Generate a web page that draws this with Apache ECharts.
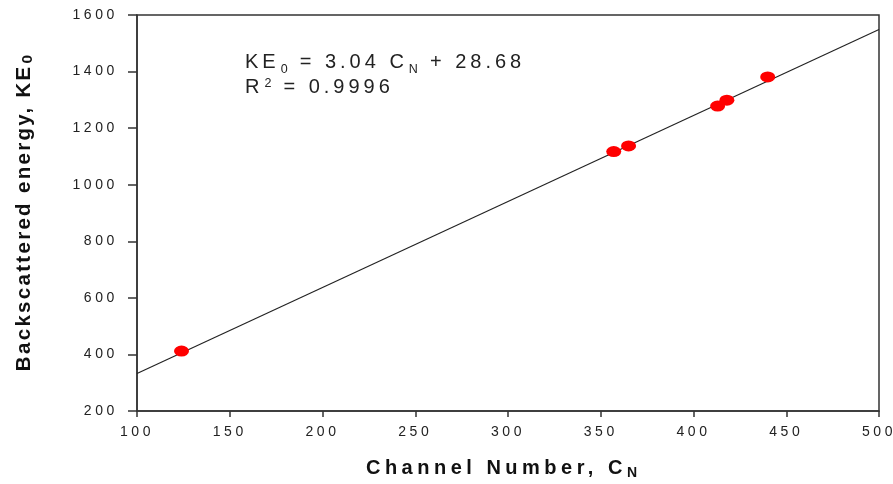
<!DOCTYPE html>
<html>
<head>
<meta charset="utf-8">
<script src="https://cdn.jsdelivr.net/npm/echarts@6/dist/echarts.min.js"></script>
<style>
  html, body { margin: 0; padding: 0; background: #fff; }
  #chart { width: 893px; height: 484px; }
</style>
</head>
<body>
<div id="chart"></div>
<script>
// Measured channel numbers and backscattered energies
const channelNumber = [124, 357, 365, 413, 418, 440];
const backscatterEnergy = [412, 1117, 1137, 1278, 1299, 1381];

// Linear fit stated in the annotation
const fitSlope = 3.04;
const fitIntercept = 28.68;
const fitR2 = '0.9996';
const fitRange = [100, 500];

const xTicks = [100, 150, 200, 250, 300, 350, 400, 450, 500];
const yTicks = [200, 400, 600, 800, 1000, 1200, 1400, 1600];

// Wide letter spacing for the typography, keyed by canvas font size/weight.
// Applied to both measuring and drawing contexts so text layout stays consistent.
const trackingByFont = {
  'normal 14px': 3.6,
  'normal 20px': 4,
  'normal 12.5px': 1.5,
  'bold 20px': 4.5,
  'bold 14px': 1,
  'bold 20.5px': 2.3,
  'bold 15.5px': 0
};
(function () {
  const proto = CanvasRenderingContext2D.prototype;
  const desc = Object.getOwnPropertyDescriptor(proto, 'font');
  if (!desc || !('letterSpacing' in proto)) return;
  Object.defineProperty(proto, 'font', {
    configurable: true,
    get() { return desc.get.call(this); },
    set(v) {
      desc.set.call(this, v);
      const m = /(bold\s+)?([\d.]+)px/.exec(v);
      let ls = 0;
      if (m) {
        const key = (m[1] ? 'bold ' : 'normal ') + m[2] + 'px';
        ls = trackingByFont[key] || 0;
      }
      this.letterSpacing = ls + 'px';
    }
  });
})();

const points = channelNumber.map((c, i) => [c, backscatterEnergy[i]]);
const fitLine = fitRange.map(c => [c, fitSlope * c + fitIntercept]);

const chart = echarts.init(document.getElementById('chart'), null, { renderer: 'canvas' });

const txt = '#222';
const font = '"Liberation Sans", Arial, sans-serif';

chart.setOption({
  animation: false,
  backgroundColor: '#fff',
  grid: {
    left: 137, right: 14, top: 15, bottom: 73,
    outerBoundsMode: 'none', containLabel: false,
    show: true, borderColor: '#333', borderWidth: 1.5, backgroundColor: 'transparent'
  },
  xAxis: {
    type: 'value', min: xTicks[0], max: xTicks[xTicks.length - 1], interval: 50,
    axisLine: { show: true, lineStyle: { color: '#333', width: 1.5 } },
    axisTick: { show: true, inside: false, length: 6, lineStyle: { color: '#333', width: 1.5 } },
    splitLine: { show: false },
    axisLabel: { color: txt, fontFamily: font, fontSize: 14, margin: 12, formatter: v => String(v) },
    name: '{t|Channel Number, C}{s|N}',
    nameLocation: 'middle', nameGap: 45,
    nameTextStyle: {
      rich: {
        t: { fontFamily: font, fontSize: 20, fontWeight: 'bold', color: '#111', lineHeight: 24 },
        s: { fontFamily: font, fontSize: 14, fontWeight: 'bold', color: '#111', padding: [10, 12, 0, 0], lineHeight: 24 }
      }
    }
  },
  yAxis: {
    type: 'value', min: yTicks[0], max: yTicks[yTicks.length - 1], interval: 200,
    axisLine: { show: true, lineStyle: { color: '#333', width: 1.5 } },
    axisTick: { show: true, inside: false, length: 9, lineStyle: { color: '#333', width: 1.5 } },
    splitLine: { show: false },
    axisLabel: { color: txt, fontFamily: font, fontSize: 14, margin: 19, formatter: v => String(v) },
    name: '{t|Backscattered energy, KE}{s|0}',
    nameLocation: 'middle', nameGap: 100, nameRotate: 90,
    nameTextStyle: {
      rich: {
        t: { fontFamily: font, fontSize: 20.5, fontWeight: 'bold', color: '#111', lineHeight: 26 },
        s: { fontFamily: font, fontSize: 15.5, fontWeight: 'bold', color: '#111', padding: [8, 0, 0, 1], lineHeight: 26 }
      }
    }
  },
  series: [
    {
      type: 'line', data: fitLine, showSymbol: false, silent: true,
      lineStyle: { color: '#222', width: 1.2 }, z: 2
    },
    {
      type: 'scatter', data: points, symbol: 'circle', symbolSize: [15, 11],
      itemStyle: { color: '#ff0000', opacity: 1 }, z: 3
    }
  ],
  graphic: [
    {
      type: 'text', left: 245, top: 48, z: 10,
      style: {
        text: '{t|KE}{s|0}{t| = 3.04 C}{s|N}{t| + 28.68}\n{t|R}{p|2}{t| = ' + fitR2 + '}',
        rich: {
          t: { fontFamily: font, fontSize: 20, fill: '#222', lineHeight: 25 },
          s: { fontFamily: font, fontSize: 12.5, fill: '#222', padding: [14, 1, 0, 1], lineHeight: 25 },
          p: { fontFamily: font, fontSize: 12.5, fill: '#222', padding: [0, 1, 8, 1], lineHeight: 25 }
        }
      }
    }
  ]
});
</script>
</body>
</html>
